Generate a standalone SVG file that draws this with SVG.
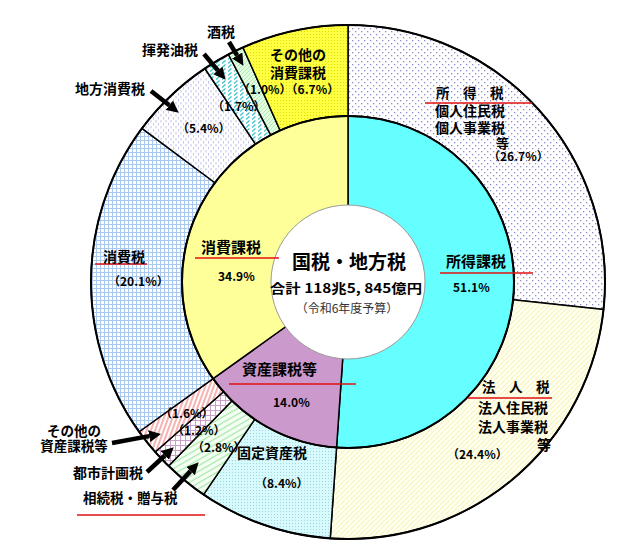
<svg xmlns="http://www.w3.org/2000/svg" width="634" height="554" viewBox="0 0 634 554">
<style>
.seg{stroke:#000;stroke-width:1.5;stroke-linejoin:round}
.ring{fill:none;stroke:#000;stroke-width:2}
.t{font-family:"Noto Sans CJK JP","Noto Sans",sans-serif;font-weight:bold;font-size:14px;fill:#000}
.p{font-family:"Noto Sans CJK JP","Noto Sans",sans-serif;font-weight:bold;font-size:12px;fill:#000}
.m{text-anchor:middle}
.red{stroke:#e01010;stroke-width:1.6}
.arr{stroke:#000;stroke-width:4.5;fill:none;marker-end:url(#ah)}
</style>
<defs>
<marker id="ah" markerUnits="userSpaceOnUse" viewBox="0 0 12 12" markerWidth="12" markerHeight="12" refX="0" refY="6" orient="auto"><path d="M0,0 L12,6 L0,12 Z" fill="#000"/></marker>
<pattern id="pShotoku" width="6" height="6" patternUnits="userSpaceOnUse"><rect width="6" height="6" fill="#fff"/><rect x="1" y="1" width="1.3" height="1.3" fill="#8c8cc8"/><rect x="4" y="4" width="1.3" height="1.3" fill="#8c8cc8"/></pattern>
<pattern id="pHojin" width="5" height="5" patternUnits="userSpaceOnUse"><rect width="5" height="5" fill="#fffff2"/><path d="M-1 6 L6 -1" stroke="#f8f4bc" stroke-width="1.2"/></pattern>
<pattern id="pKotei" width="3" height="3" patternUnits="userSpaceOnUse"><rect width="3" height="3" fill="#d8fafc"/><rect x="1" y="1" width="1" height="1" fill="#9cdade"/></pattern>
<pattern id="pSozoku" width="5" height="5" patternUnits="userSpaceOnUse" patternTransform="rotate(-30)"><rect width="5" height="5" fill="#f6fff6"/><path d="M0 2.5 H5" stroke="#a8e8a8" stroke-width="1.3"/></pattern>
<pattern id="pToshi" width="5" height="5" patternUnits="userSpaceOnUse"><rect width="5" height="5" fill="#fff"/><path d="M0 0.5 H5 M0.5 0 V5" stroke="#c8a0c8" stroke-width="1"/></pattern>
<pattern id="pSonotaShisan" width="4" height="4" patternUnits="userSpaceOnUse" patternTransform="rotate(20)"><rect width="4" height="4" fill="#fff"/><path d="M1 0 V4" stroke="#f08080" stroke-width="1.2"/></pattern>
<pattern id="pShohi" width="4" height="4" patternUnits="userSpaceOnUse"><rect width="4" height="4" fill="#fff"/><path d="M0 0.5 H4 M0.5 0 V4" stroke="#a8c8f0" stroke-width="1"/></pattern>
<pattern id="pChiho" width="5" height="6" patternUnits="userSpaceOnUse"><rect width="5" height="6" fill="#fff"/><path d="M1 0 V2.5 M3.5 3 V5.5" stroke="#c4c4ee" stroke-width="1"/></pattern>
<pattern id="pKihatsu" width="6" height="4" patternUnits="userSpaceOnUse"><rect width="6" height="4" fill="#fff"/><path d="M0 3.5 L3.5 0.5" stroke="#3cc4cc" stroke-width="1.3"/></pattern>
<pattern id="pSake" width="4" height="4" patternUnits="userSpaceOnUse"><rect width="4" height="4" fill="#e2ffe2"/><path d="M-1 5 L5 -1" stroke="#b4e8b4" stroke-width="1"/></pattern>
<pattern id="pSonotaShohi" width="3" height="3" patternUnits="userSpaceOnUse"><rect width="3" height="3" fill="#ffff44"/><rect x="1" y="1" width="1" height="1" fill="#e0e000"/></pattern>
</defs>

<g id="outer-ring">
<g id="shotokuzei"><path class="seg" fill="url(#pShotoku)" d="M348 25 A257 257 0 0 1 603.54 309.4 L513.05 299.7 A166 166 0 0 0 348 116 Z"/></g>
<g id="hojinzei"><path class="seg" fill="url(#pHojin)" d="M603.54 309.4 A257 257 0 0 1 330.25 538.39 L336.54 447.6 A166 166 0 0 0 513.05 299.7 Z"/></g>
<g id="koteishisanzei"><path class="seg" fill="url(#pKotei)" d="M330.25 538.39 A257 257 0 0 1 203.55 494.56 L254.69 419.3 A166 166 0 0 0 336.54 447.6 Z"/></g>
<g id="sozokuzei"><path class="seg" fill="url(#pSozoku)" d="M203.55 494.56 A257 257 0 0 1 168.57 466 L232.1 400.85 A166 166 0 0 0 254.69 419.3 Z"/></g>
<g id="toshikeikakuzei"><path class="seg" fill="url(#pToshi)" d="M168.57 466 A257 257 0 0 1 155.22 451.96 L223.48 391.78 A166 166 0 0 0 232.1 400.85 Z"/></g>
<g id="sonota-shisan"><path class="seg" fill="url(#pSonotaShisan)" d="M155.22 451.96 A257 257 0 0 1 139.13 431.76 L213.09 378.73 A166 166 0 0 0 223.48 391.78 Z"/></g>
<g id="shohizei"><path class="seg" fill="url(#pShohi)" d="M139.13 431.76 A257 257 0 0 1 141.99 128.33 L214.94 182.75 A166 166 0 0 0 213.09 378.73 Z"/></g>
<g id="chihoshohizei"><path class="seg" fill="url(#pChiho)" d="M141.99 128.33 A257 257 0 0 1 204.88 68.54 L255.56 144.12 A166 166 0 0 0 214.94 182.75 Z"/></g>
<g id="kihatsuyuzei"><path class="seg" fill="url(#pKihatsu)" d="M204.88 68.54 A257 257 0 0 1 228.45 54.49 L270.78 135.05 A166 166 0 0 0 255.56 144.12 Z"/></g>
<g id="sakezei"><path class="seg" fill="url(#pSake)" d="M228.45 54.49 A257 257 0 0 1 242.98 47.44 L280.16 130.49 A166 166 0 0 0 270.78 135.05 Z"/></g>
<g id="sonota-shohi"><path class="seg" fill="url(#pSonotaShohi)" d="M242.98 47.44 A257 257 0 0 1 348 25 L348 116 A166 166 0 0 0 280.16 130.49 Z"/></g>
</g>

<g id="inner-ring">
<g id="shotokukazei"><path class="seg" fill="#66ffff" d="M348 282 L348 116 A166 166 0 1 1 336.54 447.6 Z"/></g>
<g id="shisankazei"><path class="seg" fill="#cc99cc" d="M348 282 L336.54 447.6 A166 166 0 0 1 213.09 378.73 Z"/></g>
<g id="shohikazei"><path class="seg" fill="#ffff99" d="M348 282 L213.09 378.73 A166 166 0 0 1 348 116 Z"/></g>
</g>

<circle class="ring" cx="348" cy="282" r="257"/>
<circle class="ring" cx="348" cy="282" r="166"/>

<g id="center">
<circle cx="348" cy="282" r="77" fill="#fff" stroke="#999" stroke-width="1"/>
<text class="t m" x="349" y="269" style="font-size:19px">国税・地方税</text>
<text class="t m" x="346" y="293" style="font-size:13px" textLength="152" lengthAdjust="spacingAndGlyphs">合計 118兆5, 845億円</text>
<text class="m" x="347" y="313" style="font-family:'Noto Sans CJK JP',sans-serif;font-size:12px;fill:#333">（令和6年度予算）</text>
</g>

<g id="connectors">
<line class="arr" x1="229" y1="42" x2="237.2" y2="55.5"/>
<line class="arr" x1="204" y1="54" x2="217.9" y2="70.5"/>
<line class="arr" x1="151" y1="91" x2="169.3" y2="105.3"/>
<line class="arr" x1="112" y1="443" x2="149.2" y2="436.1"/>
<line class="arr" x1="147" y1="472" x2="164.9" y2="455.5"/>
<line class="arr" x1="173" y1="490" x2="190.5" y2="471.1"/>
<line class="red" x1="425" y1="103" x2="532" y2="103"/>
<line class="red" x1="440" y1="273" x2="533" y2="273"/>
<line class="red" x1="468" y1="398" x2="552" y2="398"/>
<line class="red" x1="195" y1="258" x2="279" y2="258"/>
<line class="red" x1="229" y1="384" x2="356" y2="384"/>
<line class="red" x1="95" y1="264" x2="147" y2="264"/>
<line class="red" x1="77" y1="515" x2="205" y2="515"/>
</g>

<g id="labels">
<text class="t" x="207" y="37">酒税</text>
<text class="t" x="142" y="55">揮発油税</text>
<text class="t" x="75" y="94">地方消費税</text>
<text class="t m" x="298" y="60">その他の</text>
<text class="t m" x="298" y="78">消費課税</text>
<text class="p" x="238" y="94">（1.0%）（6.7%）</text>
<text class="p" x="212" y="111">（1.7%）</text>
<text class="p" x="177" y="133">（5.4%）</text>
<text class="t" x="436" y="98" style="font-size:13.5px">所　得　税</text>
<text class="t" x="435" y="116">個人住民税</text>
<text class="t" x="435" y="133">個人事業税</text>
<text class="t" x="496" y="148" style="font-size:13px">等</text>
<text class="p" x="488" y="161">（26.7%）</text>
<text class="t" x="446" y="267" style="font-size:15px">所得課税</text>
<text class="p" x="453" y="292">51.1%</text>
<text class="t" x="201" y="253" style="font-size:15px">消費課税</text>
<text class="p" x="218" y="281">34.9%</text>
<text class="t" x="242" y="375" style="font-size:15px">資産課税等</text>
<text class="p" x="273" y="407">14.0%</text>
<text class="t" x="482" y="392" style="font-size:13.5px">法　人　税</text>
<text class="t" x="478" y="413">法人住民税</text>
<text class="t" x="478" y="432">法人事業税</text>
<text class="t" x="537" y="450">等</text>
<text class="p" x="447" y="459">（24.4%）</text>
<text class="t" x="103" y="262">消費税</text>
<text class="p" x="108" y="286">（20.1%）</text>
<text class="p" x="160" y="418">（1.6%）</text>
<text class="p" x="172" y="435">（1.2%）</text>
<text class="p" x="192" y="452">（2.8%）</text>
<text class="t" x="237" y="458">固定資産税</text>
<text class="p" x="255" y="488">（8.4%）</text>
<text class="t m" x="74" y="436" style="font-size:13.5px">その他の</text>
<text class="t m" x="74" y="451" style="font-size:13.5px">資産課税等</text>
<text class="t" x="73" y="478">都市計画税</text>
<text class="t" x="83" y="503" style="font-size:13.5px">相続税・贈与税</text>
</g>
</svg>
